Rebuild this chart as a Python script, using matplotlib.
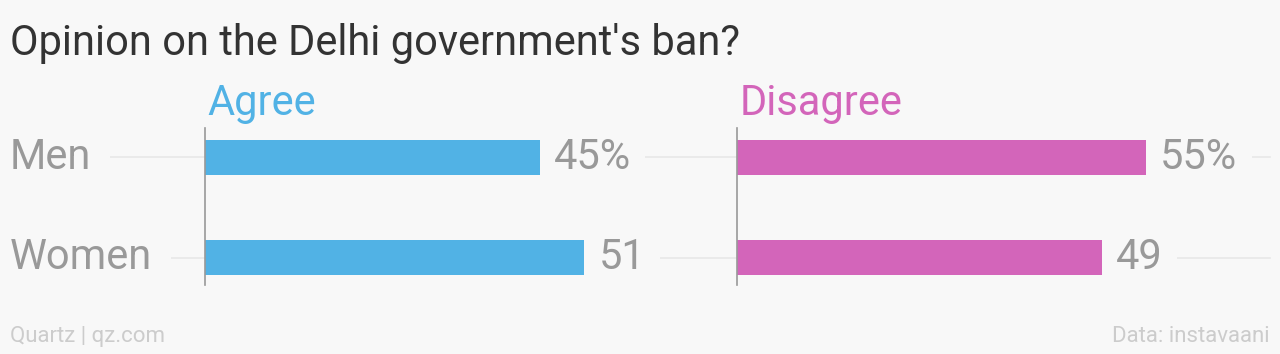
import matplotlib.pyplot as plt

# datos
grupos = ['Men', 'Women']
acuerdo = [45, 51]
desacuerdo = [55, 49]
etiquetas_acuerdo = ['45%', '51']
etiquetas_desacuerdo = ['55%', '49']

fondo = '#f8f8f8'
gris = '#999999'
linea = '#e8e8e8'
azul = '#51b2e5'
rosa = '#d365ba'

plt.rcParams['font.family'] = ['Roboto', 'DejaVu Sans']

fig = plt.figure(figsize=(12.8, 3.54), dpi=100)
fig.patch.set_facecolor(fondo)

W, H = 1280, 354
escala = 7.44  # px por unidad

def panel(x0, xmax, valores, etiquetas, color, titulo, gl_ini, gl_fin, con_grupos):
    ax = fig.add_axes([x0 / W, 1 - 285 / H, xmax * escala / W, 157 / H])
    ax.set_facecolor('none')
    y = range(len(grupos))
    ax.barh(y, valores, height=0.35, color=color, zorder=3)
    ax.set_xlim(0, xmax)
    ax.set_ylim(1.27, -0.29)
    for s in ['top', 'right', 'bottom']:
        ax.spines[s].set_visible(False)
    ax.spines['left'].set_color(gris)
    ax.spines['left'].set_linewidth(1.2)
    ax.spines['left'].set_zorder(4)
    ax.set_xticks([])
    ax.set_yticks([])
    ancho = xmax * escala
    for i in y:
        ax.axhline(i, xmin=(gl_ini - x0) / ancho, xmax=(gl_fin - x0) / ancho,
                   color=linea, lw=1.2, zorder=0, clip_on=False)
        ax.annotate(etiquetas[i], (valores[i], i), xytext=(10, 0),
                    textcoords='offset points', va='center', ha='left',
                    fontsize=30, color=gris, zorder=2,
                    bbox=dict(boxstyle='square,pad=0.35', fc=fondo, ec='none'))
        if con_grupos:
            ax.text(-195 / escala, i, grupos[i], va='center', ha='left',
                    fontsize=30, color=gris, zorder=2,
                    bbox=dict(boxstyle='square,pad=0.45', fc=fondo, ec='none'))
    ax.text(0.3, -0.42, titulo, fontsize=30, color=color, ha='left',
            va='baseline')
    return ax

panel(205, 60, acuerdo, etiquetas_acuerdo, azul, 'Agree', 100, 737, True)
panel(737, 71, desacuerdo, etiquetas_desacuerdo, rosa, 'Disagree', 737, 1270, False)

fig.text(10 / W, 1 - 55 / H, "Opinion on the Delhi government's ban?",
         fontsize=30, color='#333333', ha='left', va='baseline')
fig.text(10 / W, 1 - 342 / H, 'Quartz | qz.com', fontsize=16, color='#cccccc',
         ha='left', va='baseline')
fig.text(1270 / W, 1 - 342 / H, 'Data: instavaani', fontsize=16, color='#cccccc',
         ha='right', va='baseline')

plt.savefig('out.png', dpi=100, facecolor=fondo)
